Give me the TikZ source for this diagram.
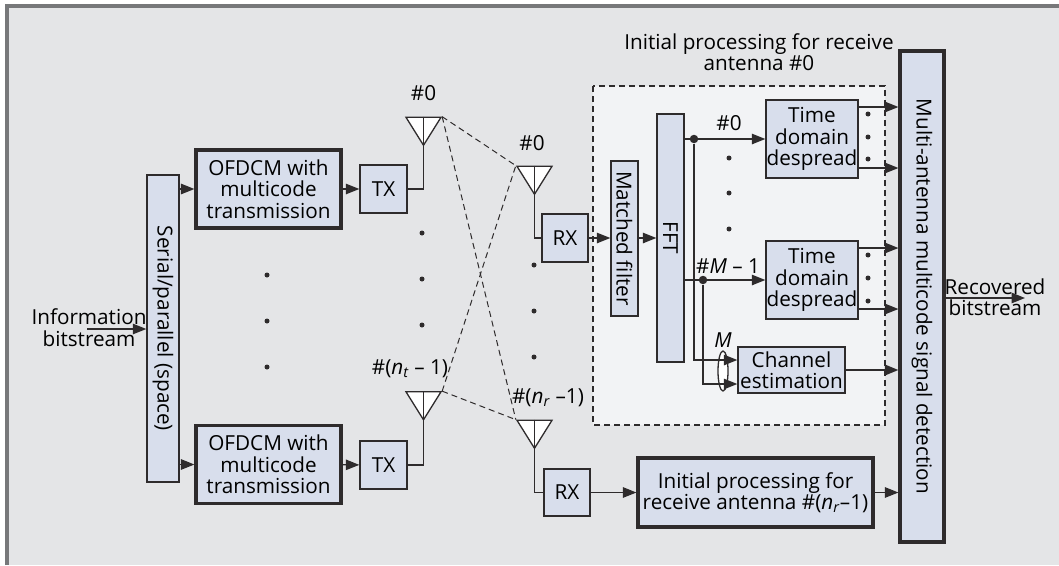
\documentclass[tikz,border=0pt]{standalone}
\usepackage{fontspec}
\setmainfont{Open Sans}
\usepackage{xcolor}
\definecolor{panelgray}{HTML}{E4E5E7}
\definecolor{framegray}{HTML}{77787A}
\definecolor{boxblue}{HTML}{D8DEEC}
\definecolor{insidegray}{HTML}{F2F3F5}
\definecolor{inkgray}{HTML}{2E2B2C}
\usetikzlibrary{arrows.meta,shapes.geometric}

\begin{document}
\begin{tikzpicture}[x=1pt,y=-1pt,>={Triangle[length=13.5pt,width=10.5pt]},line width=1.3pt,inkgray,font=\fontsize{20.7}{21.5}\selectfont]
  \tikzstyle{thin box}=[draw,fill=boxblue,align=center,inner sep=0pt,text=black,line width=1.4pt]
  \tikzstyle{thick box}=[thin box,line width=3.2pt]
  \tikzstyle{ant}=[isosceles triangle,isosceles triangle stretches,shape border rotate=-90,draw,fill=white,
                   minimum width=35pt,minimum height=28pt,inner sep=0pt,line width=1.3pt]
  \tikzstyle{e}=[->]
  \tikzstyle{radio}=[dash pattern=on 6pt off 4pt,line width=1pt]
  \tikzstyle{dot}=[circle,fill=inkgray,inner sep=0pt,minimum size=5pt]
  \tikzstyle{junction}=[circle,fill=inkgray,inner sep=0pt,minimum size=8.5pt]
  \tikzstyle{label}=[text=black,align=center,inner sep=0pt]

  \useasboundingbox (0,0) rectangle (1059,565);
  \fill[white] (0,0) rectangle (1059,565);
  \fill[panelgray] (7,6) rectangle (1059,565);
  \draw[framegray,line width=3.2pt] (7,565) -- (7,6) -- (1059,6);
  \fill[insidegray] (593,86) rectangle (885,425);
  \draw[radio,line width=1.2pt] (593,86) rectangle (885,425);

  % transmit side
  \node[thin box,minimum width=32pt,minimum height=307pt] (SP) at (163,328.5) {};
  \node[label,rotate=-90] (SPtext) at (SP.center) {Serial/parallel (space)};
  \node[thick box,minimum width=145pt,minimum height=78pt] (OFA) at (268.5,189) {OFDCM with\\multicode\\transmission};
  \node[thick box,minimum width=145pt,minimum height=78pt] (OFB) at (268.5,464.5) {OFDCM with\\multicode\\transmission};
  \node[thin box,minimum width=47pt,minimum height=48pt] (TXA) at (383.5,189) {TX};
  \node[thin box,minimum width=47pt,minimum height=48pt] (TXB) at (383.5,465) {TX};
  \node[ant] (TA) at (423.5,127) {};
  \node[ant] (TB) at (423.5,401.5) {};
  \node[label] (TAtext) at (423.5,93) {\#0};
  \node[label] (TBtext) at (410,369) {\#(\textit{n}\textsubscript{\textit{t}} -- 1)};

  % receive side
  \node[ant] (RA) at (534.5,176) {};
  \node[ant] (RB) at (534.5,430) {};
  \node[label] (RAtext) at (532,143) {\#0};
  \node[label] (RBtext) at (548,398) {\#(\textit{n}\textsubscript{\textit{r}} --1)};
  \node[thin box,minimum width=46pt,minimum height=48pt] (RXA) at (565,238) {RX};
  \node[thin box,minimum width=46pt,minimum height=47pt] (RXB) at (567,492.5) {RX};
  \node[thin box,minimum width=27pt,minimum height=155pt] (MF) at (624.5,238.5) {};
  \node[label,rotate=-90] (MFtext) at (MF.center) {Matched filter};
  \node[thin box,minimum width=27pt,minimum height=248pt] (FFT) at (670.5,238) {};
  \node[label,rotate=-90] (FFTtext) at (FFT.center) {FFT};
  \node[thin box,minimum width=92pt,minimum height=78pt] (TDA) at (812,139) {Time\\domain\\despread};
  \node[thin box,minimum width=92pt,minimum height=78pt] (TDB) at (812,280) {Time\\domain\\despread};
  \node[thin box,minimum width=107pt,minimum height=46pt] (CE) at (791.5,370) {Channel\\estimation};
  \node[thick box,minimum width=235pt,minimum height=69pt] (IP) at (755.5,492.5) {Initial processing for\\receive antenna \#(\textit{n}\textsubscript{\textit{r}}--1)};
  \node[thick box,minimum width=44pt,minimum height=491pt] (MD) at (922,296.5) {};
  \node[label,rotate=-90] (MDtext) at (MD.center) {Multi-antenna multicode signal detection};

  \node[label] (caption) at (759,52) {Initial processing for receive\\antenna \#0};
  \node[label] (info) at (89,327.5) {Information\\bitstream};
  \node[label] (recovered) at (995,297) {Recovered\\bitstream};
  \node[label] (lab0) at (729,123) {\#0};
  \node[label] (labM) at (728,266) {\#\textit{M} -- 1};
  \node[label] (labCE) at (723,340) {\textit{M}};

  \coordinate (infoin) at (87,329);
  \coordinate (recout) at (1025,298);
  \node[junction] (JA) at (694,139) {};
  \node[junction] (JB) at (703,280) {};
  \node[ellipse,draw,fill=white,minimum width=10pt,minimum height=40pt,inner sep=0pt] (bundle) at (723,371) {};

  \path[e] (infoin) edge (infoin -| SP.west)
           (SP.east |- OFA) edge (OFA)
           (SP.east |- OFB) edge (OFB)
           (OFA) edge (TXA)
           (OFB) edge (TXB)
           (RXA) edge (RXA -| MF.west)
           (MF.east |- RXA) edge (RXA -| FFT.west)
           (RXB) edge (RXB -| IP.west)
           (FFT.east |- TDA) edge (TDA)
           (FFT.east |- TDB) edge (TDB);

  \draw (TA.lower side) |- (TXA);
  \draw (TB.lower side) |- (TXB);
  \draw (RA.lower side) |- (RXA);
  \draw (RB.lower side) |- (RXB);
  \draw (TA.apex) -- (TA.lower side);
  \draw (TB.apex) -- (TB.lower side);
  \draw (RA.apex) -- (RA.lower side);
  \draw (RB.apex) -- (RB.lower side);

  \draw[radio] (TA.left corner) -- (RA.right corner);
  \draw[radio] (TA.left corner) -- (RB.right corner);
  \draw[radio] (TB.left corner) -- (RA.right corner);
  \draw[radio] (TB.left corner) -- (RB.right corner);

  \draw[e] (JA) |- (CE.west |- 0,360);
  \draw[e] (JB) |- (CE.west |- 0,384);

  \draw[e] (TDA.east |- 0,107) -- (MD.west |- 0,107);
  \draw[e] (TDA.east |- 0,168) -- (MD.west |- 0,168);
  \draw[e] (TDB.east |- 0,248) -- (MD.west |- 0,248);
  \draw[e] (TDB.east |- 0,309) -- (MD.west |- 0,309);
  \draw[e,line width=2pt] (CE) -- (MD.west |- CE);
  \draw[e] (IP) -- (MD.west |- IP);
  \draw[e] (MD.east |- recout) -- (recout);

  % the dots
  \foreach \y in {233,279,325} \node[dot] at (422,\y) {};
  \foreach \y in {275,321,367} \node[dot] at (267,\y) {};
  \foreach \y in {265,311,357} \node[dot] at (534,\y) {};
  \foreach \y in {158,193,229} \node[dot] at (729,\y) {};
  \foreach \y in {114,137,159,255,278,301} \node[dot] at (868,\y) {};
\end{tikzpicture}
\end{document}
